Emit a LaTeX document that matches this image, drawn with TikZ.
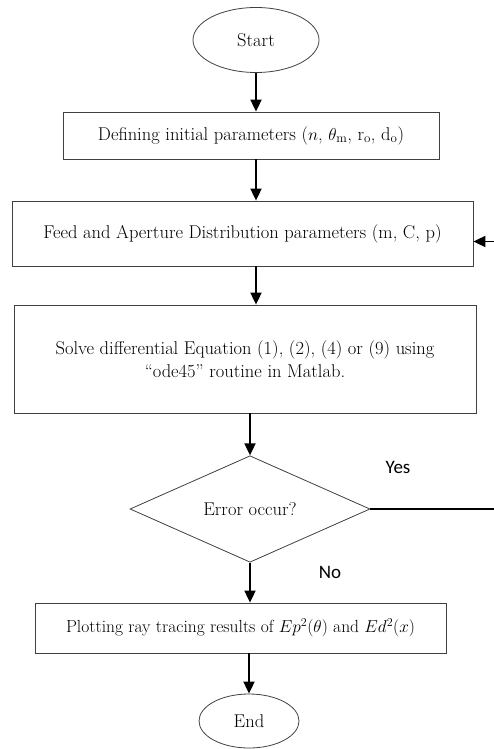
\documentclass[tikz,border=0pt]{standalone}
\usepackage{fontspec}
\newfontfamily\labelfont{Carlito}
\usetikzlibrary{shapes.geometric}
\usetikzlibrary{arrows.meta}

\tikzset{
    stepbox/.style={draw=black!75, line width=0.8pt, rectangle, align=center,
        font=\fontsize{18.5}{23}\selectfont},
    terminal/.style={draw=black!75, line width=0.8pt, ellipse,
        font=\fontsize{18.5}{22}\selectfont},
    decision/.style={draw=black!75, line width=0.8pt, diamond, inner sep=0pt,
        font=\fontsize{18.5}{22}\selectfont},
    flow/.style={-{Triangle[length=12pt,width=11pt]}, line width=1.8pt},
    answer/.style={font=\labelfont\fontsize{19}{22}\selectfont}
}

\begin{document}
\begin{tikzpicture}[x=1pt, y=1pt]
            \clip (0,0) rectangle (494,-749);
            \node[terminal, minimum width=126, minimum height=65] (start) at (256,-40) {Start};
            \node[stepbox, minimum width=376, minimum height=47] (init) at (251,-135.5)
                {Defining initial parameters ($n$, $\theta_{\mathrm{m}}$, r$_{\mathrm{o}}$, d$_{\mathrm{o}}$)};
            \node[stepbox, minimum width=461, minimum height=65] (feed) at (242.5,-233.5)
                {Feed and Aperture Distribution parameters (m, C, p)};
            \node[stepbox, minimum width=462, minimum height=108] (solve) at (245,-359)
                {Solve differential Equation (1), (2), (4) or (9) using\\
                 ``ode45'' routine in Matlab.};
            \node[decision, minimum width=240, minimum height=102] (err) at (250,-509) {Error occur?};
            \node[answer] (yes) at (398,-467) {Yes};
            \node[answer] (no) at (330,-572) {No};
            \node[stepbox, minimum width=411, minimum height=50, font=\fontsize{17.5}{20}\selectfont] (plot) at (240.5,-628)
                {Plotting ray tracing results of $Ep^2(\theta)$ and $Ed^2(x)$};
            \node[terminal, minimum width=100, minimum height=54] (end) at (249,-721) {End};
            \coordinate (back) at (500,-509);

            \draw[flow] (start) -- (start |- init.north);
            \draw[flow] (init.south -| start) -- (start |- feed.north);
            \draw[flow] (feed.south -| start) -- (start |- solve.north);
            \draw[flow] (solve.south -| err) -- (err.north);
            \draw[flow] (err.south) -- (err |- plot.north);
            \draw[flow] (plot.south -| end) -- (end.north);
            \draw[flow] (err.east) -- (back) |- ([yshift=-8]feed.east);
        \end{tikzpicture}
\end{document}
